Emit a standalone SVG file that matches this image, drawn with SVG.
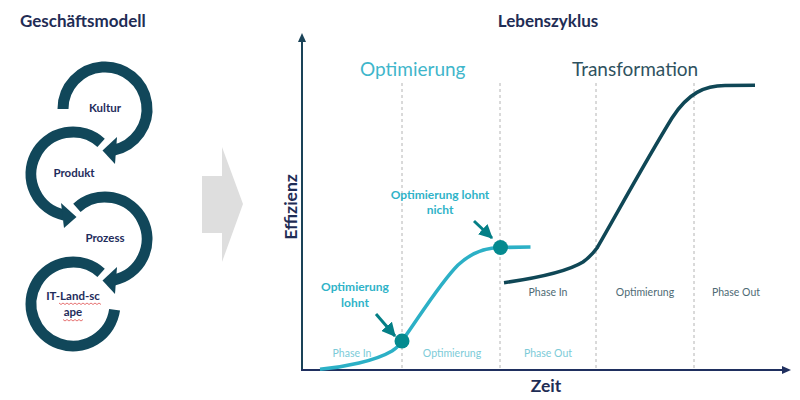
<svg xmlns="http://www.w3.org/2000/svg" width="800" height="400" viewBox="0 0 800 400">
<defs>
<style>
.title{font-family:Lato,"Open Sans","Liberation Sans",sans-serif;font-weight:700;fill:#1f2d55}
.cyc{font-family:Lato,"Open Sans","Liberation Sans",sans-serif;font-weight:700;font-size:11.5px;fill:#1f2d5c;text-anchor:middle}
.arc{fill:none;stroke:#11475a;stroke-width:11}
.head{fill:#11475a}
.dash{stroke:#b4b4b4;stroke-width:1;stroke-dasharray:3 3}
.ph-l{font-family:Lato,"Open Sans","Liberation Sans",sans-serif;font-size:10.5px;fill:#7ccbd8;text-anchor:middle}
.ph-d{font-family:Lato,"Open Sans","Liberation Sans",sans-serif;font-size:10.5px;fill:#4e6a74;text-anchor:middle}
.note{font-family:Lato,"Open Sans","Liberation Sans",sans-serif;font-weight:700;font-size:12px;fill:#2fb3c8;text-anchor:middle}
.big{font-family:Lato,"Open Sans","Liberation Sans",sans-serif;font-size:19px}
</style>
<marker id="ptr" markerUnits="userSpaceOnUse" markerWidth="14" markerHeight="14" viewBox="0 0 12 12" refX="11" refY="6" orient="auto">
<path d="M0,0 L12,6 L0,12 z" fill="#047f86"/>
</marker>
</defs>
<rect width="800" height="400" fill="#ffffff"/>

<text class="title" x="20" y="27" font-size="17">Geschäftsmodell</text>
<text class="title" x="548" y="27" font-size="17" text-anchor="middle">Lebenszyklus</text>

<g id="kultur">
<path class="arc" d="M63,109 A42,42 0 1 1 113.73,150.08"/>
<polygon class="head" points="117,137 115,164 102.5,150.5"/>
<text class="cyc" x="105" y="112">Kultur</text>
</g>
<g id="produkt">
<path class="arc" d="M101.1,142.8 A42,42 0 1 0 64.27,215.08"/>
<polygon class="head" points="61,203 64,228 76.5,217"/>
<text class="cyc" x="74" y="177">Produkt</text>
</g>
<g id="prozess">
<path class="arc" d="M76.9,207.8 A42,42 0 1 1 113.73,280.08"/>
<polygon class="head" points="117,267 115,294 102.5,280.5"/>
<text class="cyc" x="105" y="242">Prozess</text>
</g>
<g id="itlandscape">
<path class="arc" d="M101.1,272.8 A42,42 0 1 0 114.59,309.85"/>
<text class="cyc" x="73" y="300">IT-Land-sc</text>
<text class="cyc" x="73" y="316">ape</text>
<path d="M59,303 l2,1.5 l2,-1.5 l2,1.5 l2,-1.5 l2,1.5 l2,-1.5 l2,1.5 l2,-1.5 l2,1.5 l2,-1.5 l2,1.5 l2,-1.5 l2,1.5 l2,-1.5 l2,1.5 l2,-1.5 l2,1.5 l2,-1.5 l2,1.5 l2,-1.5 l2,1.5" fill="none" stroke="#e05050" stroke-width="0.8"/>
<path d="M63,319.5 l2,1.5 l2,-1.5 l2,1.5 l2,-1.5 l2,1.5 l2,-1.5 l2,1.5 l2,-1.5 l2,1.5 l2,-1.5" fill="none" stroke="#e05050" stroke-width="0.8"/>
</g>

<g id="transition-arrow">
<polygon points="202,176 222,176 222,147 243,204 222,262 222,233 202,233" fill="#dedede"/>
</g>

<g id="grid">
<line class="dash" x1="402" y1="83" x2="402" y2="370"/>
<line class="dash" x1="500" y1="83" x2="500" y2="370"/>
<line class="dash" x1="596" y1="83" x2="596" y2="370"/>
<line class="dash" x1="694" y1="83" x2="694" y2="370"/>
</g>

<g id="axes">
<line x1="302" y1="371" x2="302" y2="40" stroke="#1a4358" stroke-width="2"/>
<polygon points="302,33 298,42 306,42" fill="#1a4358"/>
<line x1="301" y1="370" x2="783" y2="370" stroke="#1f2f5f" stroke-width="2"/>
<polygon points="791,370 782,366 782,374" fill="#1f2f5f"/>
<text class="title" x="0" y="0" font-size="17.5" text-anchor="middle" transform="translate(297,207) rotate(-90)">Effizienz</text>
<text class="title" x="546" y="392" font-size="17.5" text-anchor="middle">Zeit</text>
</g>

<text class="big" x="360" y="76" fill="#3fb6cb">Optimierung</text>
<text class="big" x="572" y="76" fill="#2f5260">Transformation</text>

<g id="curve-optimierung">
<path d="M320,369.3 C345,367 375,361 392,351 C398,347 401,343 402,341 C420,316 440,283 458,265 C472,252 485,247.5 500.5,247.5 L530.5,247" fill="none" stroke="#2cb0c6" stroke-width="3.5"/>
</g>
<g id="curve-transformation">
<path d="M504,282.7 C530,279 565,273 583,262 C590,257 594,252 597,248 C615,217 645,162 672,118 C688,93 705,85.5 725,85.5 L755,85.3" fill="none" stroke="#0f4756" stroke-width="3.5"/>
</g>

<g id="connectors">
<line x1="376" y1="314" x2="395" y2="336" stroke="#047f86" stroke-width="3" marker-end="url(#ptr)"/>
<line x1="474" y1="221" x2="492" y2="238" stroke="#047f86" stroke-width="3" marker-end="url(#ptr)"/>
</g>

<g id="dot-lohnt"><circle cx="402" cy="341" r="7.5" fill="#048a8f"/></g>
<g id="dot-lohnt-nicht"><circle cx="500.5" cy="247.5" r="7.5" fill="#048a8f"/></g>

<g id="label-lohnt">
<text class="note" x="355" y="291">Optimierung</text>
<text class="note" x="355" y="307">lohnt</text>
</g>
<g id="label-lohnt-nicht">
<text class="note" x="440" y="199">Optimierung lohnt</text>
<text class="note" x="440" y="214">nicht</text>
</g>

<g id="phases-light">
<text class="ph-l" x="352" y="357">Phase In</text>
<text class="ph-l" x="452" y="357">Optimierung</text>
<text class="ph-l" x="548" y="357">Phase Out</text>
</g>
<g id="phases-dark">
<text class="ph-d" x="548" y="296">Phase In</text>
<text class="ph-d" x="645" y="296">Optimierung</text>
<text class="ph-d" x="736" y="296">Phase Out</text>
</g>
</svg>
